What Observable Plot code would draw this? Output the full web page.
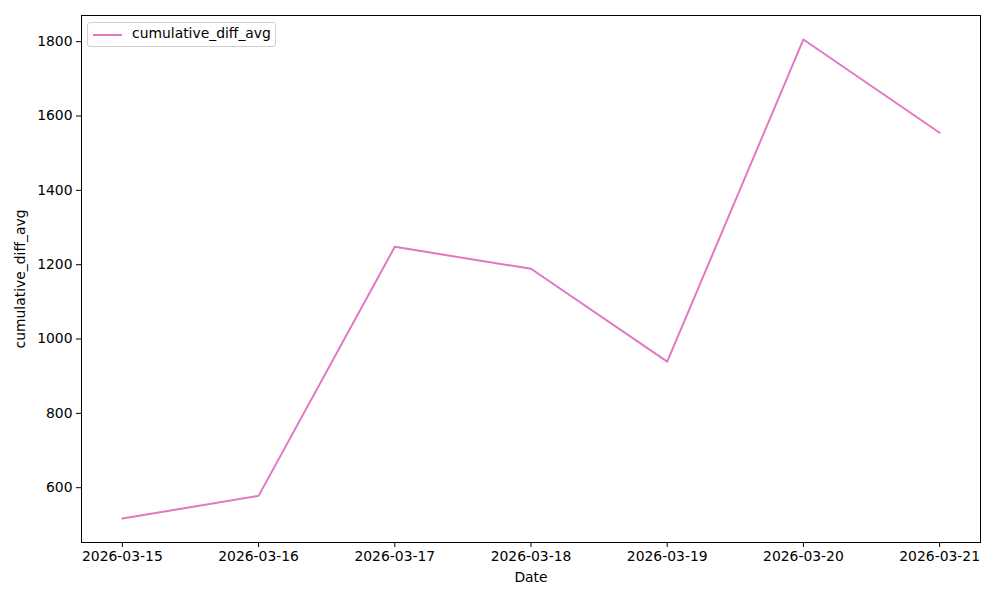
<!DOCTYPE html>
<html>
<head>
<meta charset="utf-8">
<script src="https://cdn.jsdelivr.net/npm/d3@7"></script>
<script src="https://cdn.jsdelivr.net/npm/@observablehq/plot@0.6"></script>
<style>
  html, body { margin: 0; padding: 0; background: #fff; }
  #wrap { position: relative; width: 1000px; height: 600px; font-family: "DejaVu Sans", sans-serif; }
  #legend { position: absolute; left: 87px; top: 22px; width: 187px; height: 23px; border: 1px solid #d0d0d0; border-radius: 3px; background: rgba(255,255,255,0.8); font-size: 13.9px; }
  #legend .swatch { position: absolute; left: 5px; top: 11px; width: 29px; height: 2px; background: #e377c2; }
  #legend .lab { position: absolute; left: 44px; top: 2px; color: #000; }
</style>
</head>
<body>
<div id="wrap"></div>
<script>
const dates = ["2026-03-15","2026-03-16","2026-03-17","2026-03-18","2026-03-19","2026-03-20","2026-03-21"];
const values = [517, 578, 1248, 1189, 939, 1806, 1555];
const yTicks = [600, 800, 1000, 1200, 1400, 1600, 1800];
const seriesName = "cumulative_diff_avg";

const data = dates.map((d, i) => ({date: new Date(d + "T00:00:00Z"), value: values[i]}));
const tickDates = dates.map(d => new Date(d + "T00:00:00Z"));
const x0 = tickDates[0].getTime(), x1 = tickDates[tickDates.length - 1].getTime();
const xm = (x1 - x0) * 0.05;
const vmin = d3.min(values), vmax = d3.max(values);
const ym = (vmax - vmin) * 0.05;

const chart = Plot.plot({
  width: 1000,
  height: 600,
  marginLeft: 81,
  marginRight: 20,
  marginTop: 15,
  marginBottom: 58,
  style: {fontFamily: "DejaVu Sans, sans-serif", fontSize: "13.9px", color: "#000", background: "#fff"},
  x: {type: "utc", domain: [new Date(x0 - xm), new Date(x1 + xm)]},
  y: {domain: [vmin - ym, vmax + ym]},
  marks: [
    Plot.axisX({ticks: tickDates, tickFormat: d3.utcFormat("%Y-%m-%d"), tickSize: 5, tickPadding: 4, fontSize: 13.9, label: "Date", labelAnchor: "center", labelArrow: "none", labelOffset: 39, stroke: "#000"}),
    Plot.axisY({ticks: yTicks, tickFormat: d => String(d), tickSize: 5, tickPadding: 4, fontSize: 13.9, label: seriesName, labelAnchor: "center", labelArrow: "none", labelOffset: 66, stroke: "#000"}),
    Plot.line(data, {x: "date", y: "value", stroke: "#e377c2", strokeWidth: 2}),
    Plot.frame({stroke: "#000", strokeWidth: 1})
  ]
});
const wrap = document.getElementById("wrap");
wrap.appendChild(chart);
const legend = document.createElement("div");
legend.id = "legend";
legend.innerHTML = '<div class="swatch"></div><div class="lab"></div>';
legend.querySelector(".lab").textContent = seriesName;
wrap.appendChild(legend);
</script>
</body>
</html>
